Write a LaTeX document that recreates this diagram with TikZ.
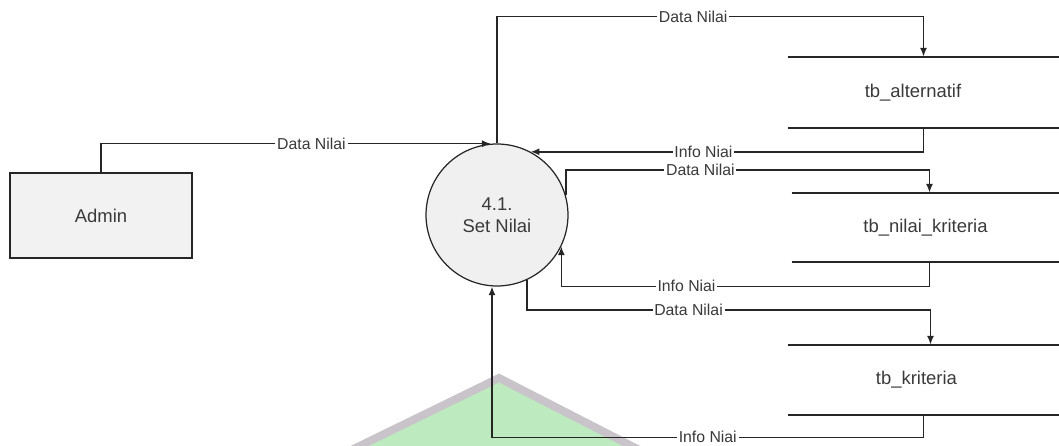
\documentclass[tikz,border=0pt]{standalone}
\usepackage{fontspec}
\setmainfont{Liberation Sans}
\usetikzlibrary{arrows.meta,calc,positioning}
\definecolor{ink}{HTML}{262626}
\definecolor{txt}{HTML}{3A3A3A}
\definecolor{boxfill}{HTML}{F2F2F2}
\definecolor{procfill}{HTML}{F0F0F0}
\definecolor{wmgreen}{HTML}{BDEABF}
\definecolor{wmgray}{HTML}{C9C3CA}
\tikzset{
  >={Latex[length=5pt,width=4pt]},
  entity/.style={draw=ink,fill=boxfill,line width=0.9pt,inner sep=0pt,
                 minimum width=3.64cm,minimum height=1.7cm,text=txt,
                 font=\fontsize{10.5}{12}\selectfont},
  process/.style={circle,draw=ink,fill=procfill,line width=0.7pt,
                  minimum size=2.84cm,align=center,text=txt,
                  font=\fontsize{10.5}{12.5}\selectfont},
  store/.style={inner sep=0pt,minimum width=5.42cm,text=txt,
                font=\fontsize{10.5}{12}\selectfont},
  storeline/.style={draw=ink,line width=1.3pt},
  flow/.style={->,draw=ink,line width=0.9pt},
  flowlabel/.style={fill=white,inner sep=1pt,text=txt,
                    font=\fontsize{9}{10}\selectfont}
}

\begin{document}
\begin{tikzpicture}[x=0.02cm,y=-0.02cm,line cap=butt,line join=miter]
  \useasboundingbox (0,0) rectangle (1059,446);

  % Watermark in the background
  \begin{scope}
    \clip (0,0) rectangle (1059,446);
    \path[fill=wmgreen,draw=wmgray,line width=4.5pt]
      (499,378) -- (335,458) -- (655,458) -- cycle;
  \end{scope}

  % External entity and process
  \node[entity] (admin) at (101,215.5) {Admin};
  \node[process] (set) at (497,215) {4.1.\\Set Nilai};

  % Data stores
  \node[store,minimum height=1.42cm] (alt) at (923.5,92.5)
    {\hspace*{-12pt}tb\_alternatif};
  \node[store,minimum height=1.38cm,minimum width=5.34cm] (nil) at (925.5,227.5)
    {tb\_nilai\_kriteria};
  \node[store,minimum height=1.4cm] (kri) at (923.5,380)
    {\hspace*{-8pt}tb\_kriteria};
  \foreach \s in {alt,nil,kri}{
    \draw[storeline] (\s.north west) -- (\s.north east);
    \draw[storeline] (\s.south west) -- (\s.south east);
  }

  % Flows
  \draw[flow] (admin.north) |- node[flowlabel,pos=0.77] {Data Nilai} (set.95);
  \draw[flow] (set.north) -- ++(0,-127)
    -| node[flowlabel,pos=0.23] {Data Nilai} (alt.north);
  \draw[flow] (alt.south) |- node[flowlabel,pos=0.78] {Info Niai} (set.62);
  \draw[flow] (set.16) -- ++(0,-25)
    -| node[flowlabel,pos=0.185] {Data Nilai} ($(nil.north)+(4,0)$);
  \draw[flow] ($(nil.south)+(4,0)$) -- ++(0,24)
    -| node[flowlabel,pos=0.33] {Info Niai} (set.-26);
  \draw[flow] (set.-65) -- ++(0,30)
    -| node[flowlabel,pos=0.2] {Data Nilai} ($(kri.north)+(7,0)$);
  \draw[flow] (kri.south) -- ++(0,22)
    -| node[flowlabel,pos=0.25] {Info Niai} (set.-94);
\end{tikzpicture}
\end{document}
